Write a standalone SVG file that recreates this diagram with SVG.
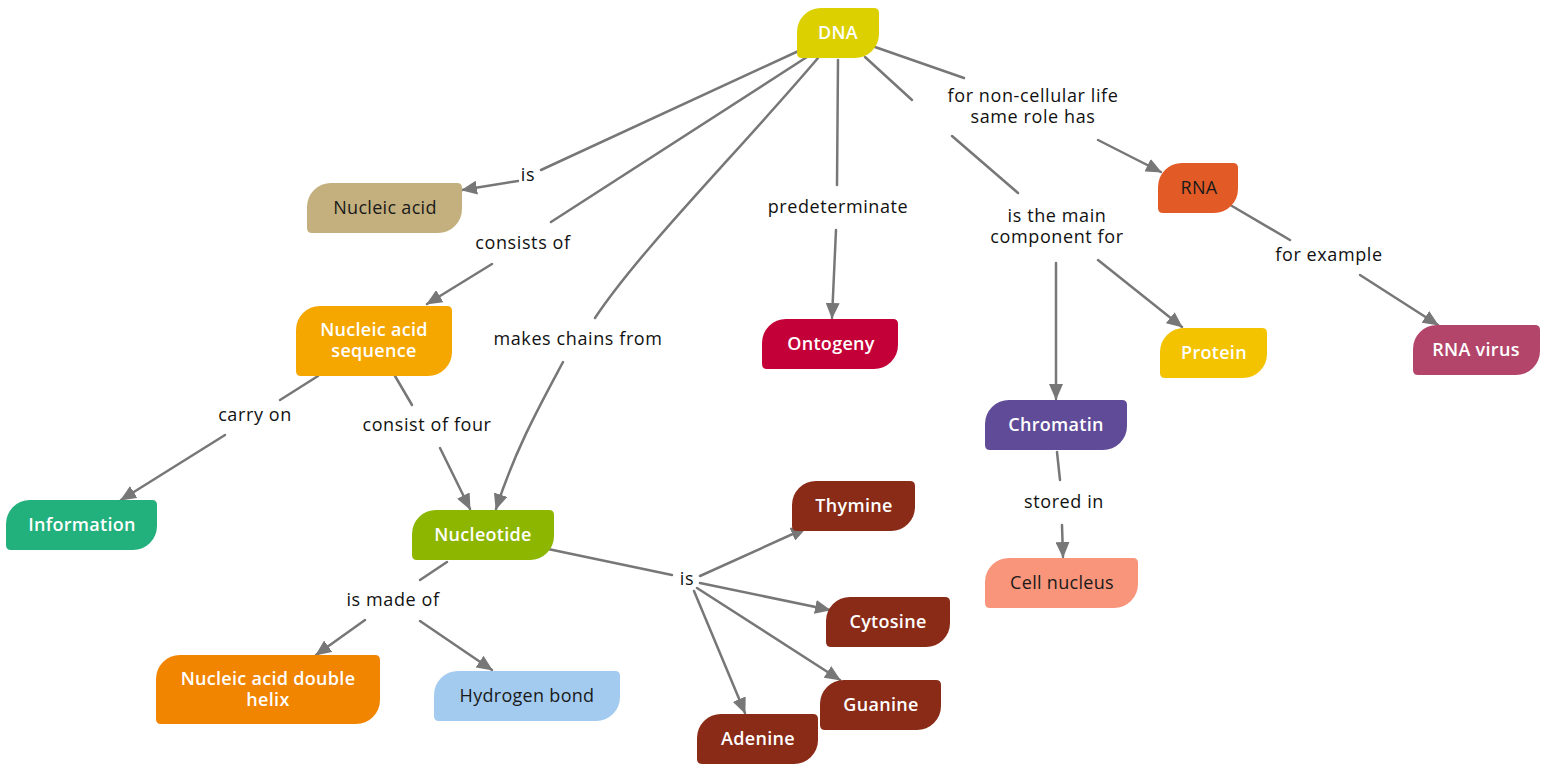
<svg xmlns="http://www.w3.org/2000/svg" width="1560" height="774" viewBox="0 0 1560 774">
<style>
.bg{fill:#fff}
.e{fill:none;stroke:#777;stroke-width:2.5;stroke-linecap:round}
.lbl{font-family:"Open Sans","Liberation Sans",sans-serif;font-size:18px;letter-spacing:0.6px;fill:#111;text-anchor:middle}
.nt{font-family:"Open Sans","Liberation Sans",sans-serif;font-size:18px;letter-spacing:0.3px;font-weight:600;text-anchor:middle;fill:#fff}
.dk{fill:#1a1a1a;font-weight:500}
</style>
<defs>
<marker id="ah" markerUnits="userSpaceOnUse" markerWidth="16" markerHeight="14" refX="15" refY="7" orient="auto">
<path d="M0,0 L16,7 L0,14 z" fill="#777"/>
</marker>
</defs>
<rect class="bg" width="1560" height="774"/>
<g id="connectors">
<line class="e" x1="805" y1="48" x2="541" y2="170"/>
<line class="e" x1="518" y1="181" x2="462" y2="190" marker-end="url(#ah)"/>
<line class="e" x1="810" y1="55" x2="551" y2="222"/>
<line class="e" x1="492" y1="264" x2="427" y2="304" marker-end="url(#ah)"/>
<path class="e" d="M818,58 C740,150 640,250 595,318"/>
<path class="e" d="M563,362 C540,405 515,450 496,509" marker-end="url(#ah)"/>
<line class="e" x1="838" y1="60" x2="837" y2="185"/>
<line class="e" x1="836" y1="230" x2="832" y2="318" marker-end="url(#ah)"/>
<line class="e" x1="865" y1="57" x2="912" y2="100"/>
<line class="e" x1="952" y1="136" x2="1018" y2="193"/>
<line class="e" x1="1098" y1="260" x2="1182" y2="327" marker-end="url(#ah)"/>
<line class="e" x1="1056" y1="263" x2="1056" y2="399" marker-end="url(#ah)"/>
<line class="e" x1="875" y1="47" x2="964" y2="78"/>
<line class="e" x1="1098" y1="140" x2="1161" y2="172" marker-end="url(#ah)"/>
<line class="e" x1="1232" y1="206" x2="1290" y2="240"/>
<line class="e" x1="1360" y1="275" x2="1438" y2="325" marker-end="url(#ah)"/>
<line class="e" x1="1057" y1="452" x2="1060" y2="480"/>
<line class="e" x1="1062" y1="525" x2="1063" y2="557" marker-end="url(#ah)"/>
<line class="e" x1="318" y1="376" x2="280" y2="400"/>
<line class="e" x1="225" y1="435" x2="121" y2="500" marker-end="url(#ah)"/>
<line class="e" x1="395" y1="376" x2="412" y2="405"/>
<line class="e" x1="440" y1="448" x2="470" y2="509" marker-end="url(#ah)"/>
<line class="e" x1="447" y1="562" x2="420" y2="580"/>
<line class="e" x1="365" y1="620" x2="316" y2="655" marker-end="url(#ah)"/>
<line class="e" x1="420" y1="621" x2="492" y2="670" marker-end="url(#ah)"/>
<line class="e" x1="548" y1="549" x2="672" y2="575"/>
<line class="e" x1="700" y1="576" x2="806" y2="528" marker-end="url(#ah)"/>
<line class="e" x1="700" y1="583" x2="830" y2="610" marker-end="url(#ah)"/>
<line class="e" x1="697" y1="588" x2="840" y2="680" marker-end="url(#ah)"/>
<line class="e" x1="694" y1="591" x2="745" y2="713" marker-end="url(#ah)"/>
</g>
<g id="labels">
<text class="lbl" x="528" y="181">is</text>
<text class="lbl" x="523" y="249">consists of</text>
<text class="lbl" x="578" y="345">makes chains from</text>
<text class="lbl" x="838" y="213">predeterminate</text>
<text class="lbl" x="1033" y="102"><tspan x="1033">for non-cellular life</tspan><tspan x="1033" dy="21">same role has</tspan></text>
<text class="lbl" x="1057" y="222"><tspan x="1057">is the main</tspan><tspan x="1057" dy="21">component for</tspan></text>
<text class="lbl" x="1329" y="261">for example</text>
<text class="lbl" x="1064" y="508">stored in</text>
<text class="lbl" x="255" y="421">carry on</text>
<text class="lbl" x="427" y="431">consist of four</text>
<text class="lbl" x="393" y="606">is made of</text>
<text class="lbl" x="687" y="585">is</text>
</g>
<g id="n-dna"><path fill="#DCD000" d="M821,8 H874 Q879,8 879,13 V34 A24,24 0 0 1 855,58 H802 Q797,58 797,53 V32 A24,24 0 0 1 821,8 Z"/><text class="nt" x="838" y="39">DNA</text></g>
<g id="n-nucleic-acid"><path fill="#C4B07E" d="M331,183 H457 Q462,183 462,188 V209 A24,24 0 0 1 438,233 H312 Q307,233 307,228 V207 A24,24 0 0 1 331,183 Z"/><text class="nt dk" x="385" y="214">Nucleic acid</text></g>
<g id="n-sequence"><path fill="#F5A700" d="M320,306 H447 Q452,306 452,311 V352 A24,24 0 0 1 428,376 H301 Q296,376 296,371 V330 A24,24 0 0 1 320,306 Z"/><text class="nt" x="374" y="336"><tspan x="374">Nucleic acid</tspan><tspan x="374" dy="21">sequence</tspan></text></g>
<g id="n-information"><path fill="#22B07D" d="M30,500 H152 Q157,500 157,505 V526 A24,24 0 0 1 133,550 H11 Q6,550 6,545 V524 A24,24 0 0 1 30,500 Z"/><text class="nt" x="82" y="531">Information</text></g>
<g id="n-nucleotide"><path fill="#8DB600" d="M436,510 H549 Q554,510 554,515 V536 A24,24 0 0 1 530,560 H417 Q412,560 412,555 V534 A24,24 0 0 1 436,510 Z"/><text class="nt" x="483" y="541">Nucleotide</text></g>
<g id="n-helix"><path fill="#F28500" d="M180,655 H375 Q380,655 380,660 V700 A24,24 0 0 1 356,724 H161 Q156,724 156,719 V679 A24,24 0 0 1 180,655 Z"/><text class="nt" x="268" y="685"><tspan x="268">Nucleic acid double</tspan><tspan x="268" dy="21">helix</tspan></text></g>
<g id="n-hydrogen"><path fill="#A3CBF0" d="M458,671 H615 Q620,671 620,676 V697 A24,24 0 0 1 596,721 H439 Q434,721 434,716 V695 A24,24 0 0 1 458,671 Z"/><text class="nt dk" x="527" y="702">Hydrogen bond</text></g>
<g id="n-adenine"><path fill="#8A2B17" d="M721,714 H813 Q818,714 818,719 V740 A24,24 0 0 1 794,764 H702 Q697,764 697,759 V738 A24,24 0 0 1 721,714 Z"/><text class="nt" x="758" y="745">Adenine</text></g>
<g id="n-guanine"><path fill="#8A2B17" d="M844,680 H936 Q941,680 941,685 V706 A24,24 0 0 1 917,730 H825 Q820,730 820,725 V704 A24,24 0 0 1 844,680 Z"/><text class="nt" x="881" y="711">Guanine</text></g>
<g id="n-cytosine"><path fill="#8A2B17" d="M850,597 H945 Q950,597 950,602 V623 A24,24 0 0 1 926,647 H831 Q826,647 826,642 V621 A24,24 0 0 1 850,597 Z"/><text class="nt" x="888" y="628">Cytosine</text></g>
<g id="n-thymine"><path fill="#8A2B17" d="M816,481 H910 Q915,481 915,486 V507 A24,24 0 0 1 891,531 H797 Q792,531 792,526 V505 A24,24 0 0 1 816,481 Z"/><text class="nt" x="854" y="512">Thymine</text></g>
<g id="n-ontogeny"><path fill="#C30037" d="M786,319 H893 Q898,319 898,324 V345 A24,24 0 0 1 874,369 H767 Q762,369 762,364 V343 A24,24 0 0 1 786,319 Z"/><text class="nt" x="831" y="350">Ontogeny</text></g>
<g id="n-chromatin"><path fill="#5F4B98" d="M1009,400 H1122 Q1127,400 1127,405 V426 A24,24 0 0 1 1103,450 H990 Q985,450 985,445 V424 A24,24 0 0 1 1009,400 Z"/><text class="nt" x="1056" y="431">Chromatin</text></g>
<g id="n-cell-nucleus"><path fill="#F8957A" d="M1009,558 H1133 Q1138,558 1138,563 V584 A24,24 0 0 1 1114,608 H990 Q985,608 985,603 V582 A24,24 0 0 1 1009,558 Z"/><text class="nt dk" x="1062" y="589">Cell nucleus</text></g>
<g id="n-protein"><path fill="#F3C300" d="M1184,328 H1262 Q1267,328 1267,333 V354 A24,24 0 0 1 1243,378 H1165 Q1160,378 1160,373 V352 A24,24 0 0 1 1184,328 Z"/><text class="nt" x="1214" y="359">Protein</text></g>
<g id="n-rna"><path fill="#E25A26" d="M1182,163 H1233 Q1238,163 1238,168 V189 A24,24 0 0 1 1214,213 H1163 Q1158,213 1158,208 V187 A24,24 0 0 1 1182,163 Z"/><text class="nt dk" x="1199" y="194">RNA</text></g>
<g id="n-rna-virus"><path fill="#B3456B" d="M1437,325 H1535 Q1540,325 1540,330 V351 A24,24 0 0 1 1516,375 H1418 Q1413,375 1413,370 V349 A24,24 0 0 1 1437,325 Z"/><text class="nt" x="1476" y="356">RNA virus</text></g>
</svg>
